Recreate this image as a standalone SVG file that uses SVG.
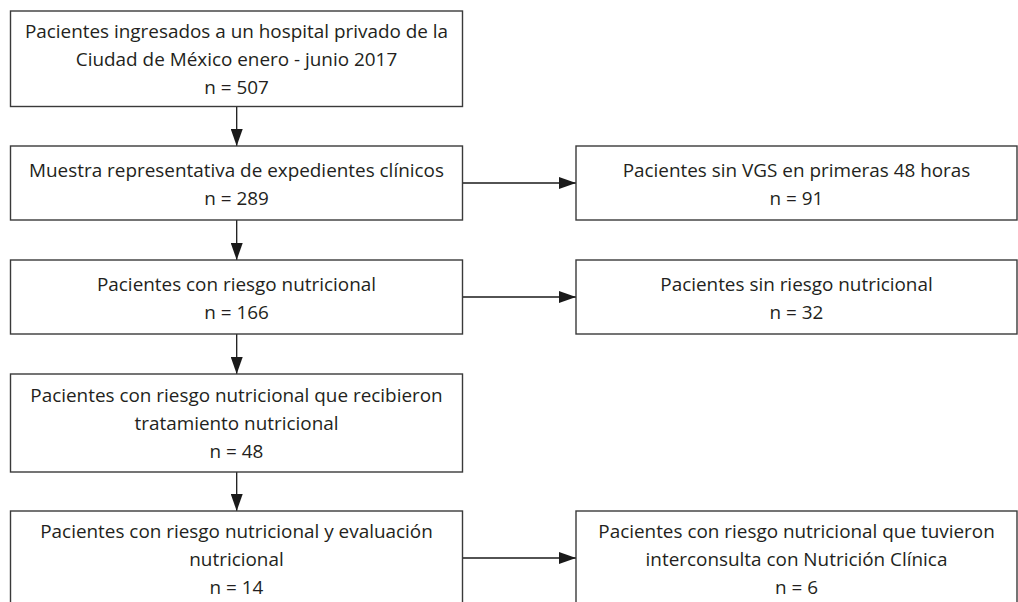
<svg xmlns="http://www.w3.org/2000/svg" width="1018" height="602" viewBox="0 0 1018 602">
<defs>
<marker id="ah" markerWidth="17" markerHeight="12" refX="17" refY="6" orient="auto" markerUnits="userSpaceOnUse">
<path d="M0,0 L17,6 L0,12 Z" fill="#1a1a1a"/>
</marker>
<style>
.box{fill:#fff;stroke:#3a3a3a;stroke-width:1.4}
.t{font-family:"Open Sans","Noto Sans",sans-serif;font-size:18.9px;fill:#231f20;text-anchor:middle}
.c{stroke:#1a1a1a;stroke-width:1.3;fill:none}
</style>
</defs>
<rect width="1018" height="602" fill="#fff"/>
<g id="connectors">
<line class="c" x1="236.7" y1="106.5" x2="236.7" y2="146" marker-end="url(#ah)"/>
<line class="c" x1="236.7" y1="220" x2="236.7" y2="260" marker-end="url(#ah)"/>
<line class="c" x1="236.7" y1="334" x2="236.7" y2="374" marker-end="url(#ah)"/>
<line class="c" x1="236.7" y1="472" x2="236.7" y2="511" marker-end="url(#ah)"/>
<line class="c" x1="462.5" y1="183" x2="576" y2="183" marker-end="url(#ah)"/>
<line class="c" x1="462.5" y1="297" x2="576" y2="297" marker-end="url(#ah)"/>
<line class="c" x1="462.5" y1="558" x2="576" y2="558" marker-end="url(#ah)"/>
</g>
<g id="n1">
<rect class="box" x="10.5" y="11" width="452" height="95.5"/>
<text class="t" x="236.5" y="38">Pacientes ingresados a un hospital privado de la</text>
<text class="t" x="236.5" y="66">Ciudad de México enero - junio 2017</text>
<text class="t" x="236.5" y="94">n = 507</text>
</g>
<g id="n2">
<rect class="box" x="10.5" y="146" width="452" height="74"/>
<text class="t" x="236.5" y="176.5">Muestra representativa de expedientes clínicos</text>
<text class="t" x="236.5" y="204.5">n = 289</text>
</g>
<g id="n3">
<rect class="box" x="576" y="146" width="441" height="74"/>
<text class="t" x="796.5" y="176.5">Pacientes sin VGS en primeras 48 horas</text>
<text class="t" x="796.5" y="204.5">n = 91</text>
</g>
<g id="n4">
<rect class="box" x="10.5" y="260" width="452" height="74"/>
<text class="t" x="236.5" y="290.5">Pacientes con riesgo nutricional</text>
<text class="t" x="236.5" y="318.5">n = 166</text>
</g>
<g id="n5">
<rect class="box" x="576" y="260" width="441" height="74"/>
<text class="t" x="796.5" y="290.5">Pacientes sin riesgo nutricional</text>
<text class="t" x="796.5" y="318.5">n = 32</text>
</g>
<g id="n6">
<rect class="box" x="10.5" y="374" width="452" height="98"/>
<text class="t" x="236.5" y="402">Pacientes con riesgo nutricional que recibieron</text>
<text class="t" x="236.5" y="430">tratamiento nutricional</text>
<text class="t" x="236.5" y="458">n = 48</text>
</g>
<g id="n7">
<rect class="box" x="10.5" y="511" width="452" height="100"/>
<text class="t" x="236.5" y="538">Pacientes con riesgo nutricional y evaluación</text>
<text class="t" x="236.5" y="566">nutricional</text>
<text class="t" x="236.5" y="594">n = 14</text>
</g>
<g id="n8">
<rect class="box" x="576" y="511" width="441" height="100"/>
<text class="t" x="796.5" y="538">Pacientes con riesgo nutricional que tuvieron</text>
<text class="t" x="796.5" y="566">interconsulta con Nutrición Clínica</text>
<text class="t" x="796.5" y="594">n = 6</text>
</g>
</svg>
